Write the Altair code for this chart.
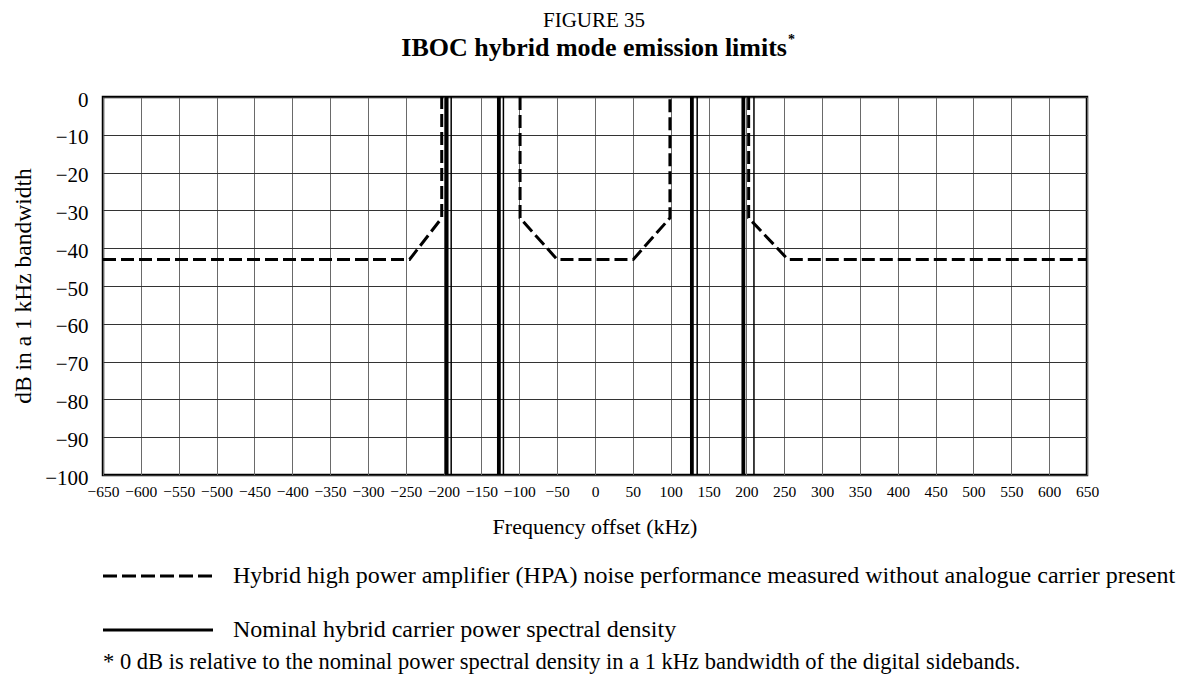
import altair as alt
import pandas as pd

# ---- data ----
x_ticks = [-650, -600, -550, -500, -450, -400, -350, -300, -250, -200, -150, -100, -50,
           0, 50, 100, 150, 200, 250, 300, 350, 400, 450, 500, 550, 600, 650]
y_ticks = [0, -10, -20, -30, -40, -50, -60, -70, -80, -90, -100]

# Hybrid HPA noise limit (dashed), three separate pieces
hpa_piece = ["left"] * 4 + ["centre"] * 6 + ["right"] * 4
hpa_khz = [-650, -245, -202.5, -202.5,
           -99, -99, -50, 50.5, 99, 99,
           203, 203, 255, 650]
hpa_db = [-43, -43, -32, 0,
          0, -32, -43, -43, -32, 0,
          0, -32, -43, -43]
hpa_order = list(range(len(hpa_khz)))

# Nominal hybrid carrier PSD (solid vertical lines, heavy + light)
psd_heavy_khz = [-196, -127, 128, 196]
psd_light_khz = [-190, -121, 135, 210]
psd_low_db = -100
psd_high_db = 0

FONT = "Liberation Serif"

hpa_df = pd.DataFrame({"khz": hpa_khz, "db": hpa_db, "piece": hpa_piece, "order": hpa_order})
heavy_df = pd.DataFrame({"khz": psd_heavy_khz, "lo": psd_low_db, "hi": psd_high_db})
light_df = pd.DataFrame({"khz": psd_light_khz, "lo": psd_low_db, "hi": psd_high_db})
one = pd.DataFrame({"a": [0]})

W, H = 984, 378

x_scale = alt.Scale(domain=[-650, 650], nice=False, zero=False)
y_scale = alt.Scale(domain=[-100, 0], nice=False, zero=False)

x_axis = alt.Axis(values=x_ticks, tickCount=60, grid=True, gridColor="#6a6a6a", gridWidth=1,
                  domain=False, ticks=False, labelFont=FONT, labelFontSize=15.5,
                  labelColor="black", labelPadding=9, labelFlush=False,
                  labelOverlap=False, title=None)
y_axis = alt.Axis(values=y_ticks, tickCount=40, grid=True, gridColor="#333333", gridWidth=1,
                  domain=False, ticks=False, labelFont=FONT, labelFontSize=21,
                  labelColor="black", labelPadding=15, labelOffset=3,
                  labelOverlap=False, title=None)

hpa = alt.Chart(hpa_df).mark_line(color="black", strokeWidth=3, strokeDash=[13, 5],
                                  clip=True).encode(
    x=alt.X("khz:Q", scale=x_scale, axis=x_axis),
    y=alt.Y("db:Q", scale=y_scale, axis=y_axis),
    detail="piece:N",
    order="order:Q",
)

heavy = alt.Chart(heavy_df).mark_rule(color="black", strokeWidth=3.8).encode(
    x="khz:Q", y="lo:Q", y2="hi:Q")
light = alt.Chart(light_df).mark_rule(color="black", strokeWidth=1.5).encode(
    x="khz:Q", y="lo:Q", y2="hi:Q")


def txt(s, x, y, size=21, align="center", weight="normal", angle=0, baseline="middle"):
    return alt.Chart(one).mark_text(font=FONT, fontSize=size, align=align,
                                    baseline=baseline, fontWeight=weight,
                                    angle=angle, color="black").encode(
        x=alt.value(x), y=alt.value(y), text=alt.value(s))


title1 = txt("FIGURE 35", 491, -70, size=21, baseline="alphabetic")
title2 = txt("IBOC hybrid mode emission limits", 684, -49, size=26, align="right", weight="bold")
title_star = txt("*", 685, -57, size=14, align="left", weight="bold")
xtitle = txt("Frequency offset (kHz)", 492, 430, size=22)
ytitle = txt("dB in a 1 kHz bandwidth", -79, 189, size=23.5, angle=270)

leg_dash = alt.Chart(one).mark_rule(color="black", strokeWidth=3, strokeDash=[14, 5]).encode(
    x=alt.value(0), x2=alt.value(110), y=alt.value(479))
leg_dash_txt = txt("Hybrid high power amplifier (HPA) noise performance measured without analogue carrier present",
                   130, 479, size=24, align="left")
leg_solid = alt.Chart(one).mark_rule(color="black", strokeWidth=3).encode(
    x=alt.value(0), x2=alt.value(110), y=alt.value(533))
leg_solid_txt = txt("Nominal hybrid carrier power spectral density", 130, 533, size=24, align="left")
footnote = txt("* 0 dB is relative to the nominal power spectral density in a 1 kHz bandwidth of the digital sidebands.",
               0, 565, size=22.5, align="left")

chart = alt.layer(
    hpa, heavy, light,
    title1, title2, title_star, xtitle, ytitle,
    leg_dash, leg_dash_txt, leg_solid, leg_solid_txt, footnote,
).properties(
    width=W, height=H,
    autosize=alt.AutoSizeParams(type="none"),
    padding={"left": 95, "top": 89, "right": 92, "bottom": 205},
    background="white",
).configure_view(stroke="black", strokeWidth=2.5)

chart.save("out.html", embed_options={"renderer": "svg", "actions": False})
